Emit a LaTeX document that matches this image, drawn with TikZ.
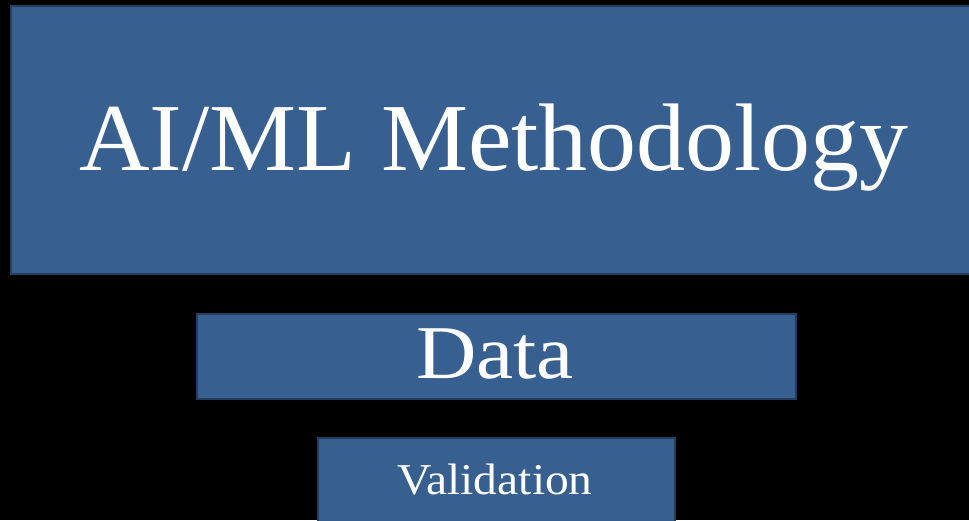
\documentclass[tikz,border=0pt]{standalone}
\usepackage{fontspec}
\setmainfont{Liberation Serif}
\definecolor{boxfill}{RGB}{55,96,145}
\definecolor{boxedge}{RGB}{36,62,96}
\begin{document}
\begin{tikzpicture}[x=1pt,y=-1pt,
  panel/.style={draw=boxedge, line width=2pt, fill=boxfill, inner sep=0pt, anchor=north west},
  caption/.style={text=white, inner sep=0pt, anchor=base}]
  % black backdrop sets the page size
  \fill[black] (0,0) rectangle (969,520);
  \useasboundingbox (0,0) rectangle (969,520);

  % panels
  \node[panel, minimum width=975pt, minimum height=268pt] (top) at (10,5) {};
  \node[panel, minimum width=599pt, minimum height=85pt] (mid) at (196,313) {};
  \node[panel, minimum width=357pt, minimum height=100pt] (low) at (317,437) {};

  % captions, widened slightly to the book-face proportions
  \node[caption, font=\fontsize{96}{96}\selectfont] (t1) at (494,170) {\scalebox{1.02}[1]{AI/ML Methodology}};
  \node[caption, font=\fontsize{76}{76}\selectfont] (t2) at (495,378) {\scalebox{1.1}[1]{Data}};
  \node[caption, font=\fontsize{44}{44}\selectfont] (t3) at (495,494) {\scalebox{1.08}[1]{Validation}};
\end{tikzpicture}
\end{document}
